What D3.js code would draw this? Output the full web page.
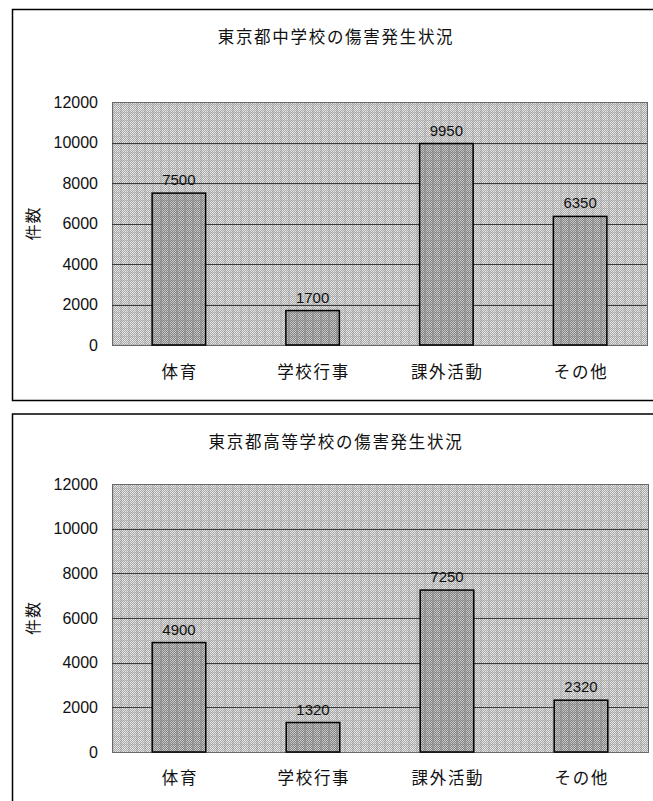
<!DOCTYPE html>
<html>
<head>
<meta charset="utf-8">
<script src="https://cdn.jsdelivr.net/npm/d3@7"></script>
<style>
  body { margin: 0; background: #fff; }
  svg { display: block; }
  .cjk { font-family: "Noto Sans CJK JP", "Noto Sans CJK SC", sans-serif; }
  .num { font-family: "Liberation Sans", Arial, sans-serif; }
</style>
</head>
<body>
<div id="chart"></div>
<script>
// data
var categories = ["体育", "学校行事", "課外活動", "その他"];
var juniorHigh = [7500, 1700, 9950, 6350];
var seniorHigh = [4900, 1320, 7250, 2320];
var yTicks = [0, 2000, 4000, 6000, 8000, 10000, 12000];
var titles = ["東京都中学校の傷害発生状況", "東京都高等学校の傷害発生状況"];
var yTitle = "件数";

var W = 653, H = 801;

var svg = d3.select("#chart")
  .append("svg")
  .attr("width", W)
  .attr("height", H);

var defs = svg.append("defs");

// halftone-ish fill like the scanned original
function makePattern(id, light, dark, plaid) {
  var p = defs.append("pattern")
    .attr("id", id)
    .attr("patternUnits", "userSpaceOnUse")
    .attr("width", 8)
    .attr("height", 8);
  for (var i = 0; i < 8; i++) {
    for (var j = 0; j < 8; j++) {
      var c = ((i + j) % 2 == 0) ? light : dark;
      if (i == 0 || j == 0 || i == 1) {
        c = ((i + j) % 2 == 0) ? plaid : dark;
      }
      p.append("rect")
        .attr("x", i).attr("y", j)
        .attr("width", 1).attr("height", 1)
        .attr("fill", c);
    }
  }
}
makePattern("bgPat", "#e6e6e6", "#a8a8a8", "#c8c8c8");
makePattern("barPat", "#c8c8c8", "#848484", "#a6a6a6");

function drawPanel(cfg) {
  var g = svg.append("g");

  // outer frame (runs off the right edge)
  g.append("rect")
    .attr("x", 12.5)
    .attr("y", cfg.frameTop)
    .attr("width", 700)
    .attr("height", cfg.frameHeight)
    .attr("fill", "none")
    .attr("stroke", "#000")
    .attr("stroke-width", 1.5);

  g.append("text")
    .attr("class", "cjk")
    .attr("x", 336)
    .attr("y", cfg.titleY)
    .attr("dy", "0.36em")
    .attr("text-anchor", "middle")
    .attr("font-size", 16.5)
    .attr("letter-spacing", "1.7px")
    .attr("fill", "#111")
    .text(cfg.title);

  var x = d3.scaleBand()
    .domain(categories)
    .range([cfg.left, cfg.right])
    .paddingInner(0.6)
    .paddingOuter(0.3);

  var y = d3.scaleLinear()
    .domain([0, 12000])
    .range([cfg.bottom, cfg.top]);

  // plot area
  g.append("rect")
    .attr("x", cfg.left)
    .attr("y", cfg.top)
    .attr("width", cfg.right - cfg.left)
    .attr("height", cfg.bottom - cfg.top)
    .attr("fill", "url(#bgPat)")
    .attr("stroke", "#6a6a6a")
    .attr("stroke-width", 1)
    .attr("shape-rendering", "crispEdges");

  // gridlines
  g.append("g")
    .selectAll("line")
    .data(yTicks.filter(function(d) { return d > 0 && d < 12000; }))
    .enter()
    .append("line")
    .attr("x1", cfg.left)
    .attr("x2", cfg.right)
    .attr("y1", function(d) { return Math.round(y(d)) + 0.5; })
    .attr("y2", function(d) { return Math.round(y(d)) + 0.5; })
    .attr("stroke", "#3c3c3c")
    .attr("stroke-width", 1);

  // y axis labels
  var yAxis = g.append("g")
    .attr("transform", "translate(" + cfg.left + ",0)")
    .call(d3.axisLeft(y).tickValues(yTicks).tickSize(0).tickPadding(14).tickFormat(d3.format("d")));
  yAxis.select(".domain").remove();
  yAxis.selectAll("text")
    .attr("class", "num")
    .attr("font-size", 16)
    .attr("fill", "#111");

  // x axis labels
  var xAxis = g.append("g")
    .attr("transform", "translate(0," + cfg.bottom + ")")
    .call(d3.axisBottom(x).tickSize(0));
  xAxis.select(".domain").remove();
  xAxis.selectAll("text")
    .attr("class", "cjk")
    .attr("y", cfg.catOffset)
    .attr("dy", "0.36em")
    .attr("dx", "0.9px")
    .attr("font-size", 16.5)
    .attr("letter-spacing", "1.7px")
    .attr("fill", "#111");

  // bars
  g.selectAll(".bar")
    .data(cfg.values)
    .enter()
    .append("rect")
    .attr("x", function(d, i) { return x(categories[i]); })
    .attr("y", function(d) { return y(d); })
    .attr("width", x.bandwidth())
    .attr("height", function(d) { return cfg.bottom - y(d); })
    .attr("fill", "url(#barPat)")
    .attr("stroke", "#000")
    .attr("stroke-width", 1.5);

  // value labels
  g.selectAll(".val")
    .data(cfg.values)
    .enter()
    .append("text")
    .attr("class", "num")
    .attr("x", function(d, i) { return x(categories[i]) + x.bandwidth() / 2; })
    .attr("y", function(d) { return y(d) - 8; })
    .attr("text-anchor", "middle")
    .attr("font-size", 15)
    .attr("fill", "#111")
    .text(function(d) { return d; });

  // vertical axis title
  g.append("text")
    .attr("class", "cjk")
    .attr("transform", "translate(33," + ((cfg.top + cfg.bottom) / 2) + ") rotate(-90)")
    .attr("dy", "0.36em")
    .attr("text-anchor", "middle")
    .attr("font-size", 16)
    .attr("letter-spacing", "1px")
    .attr("fill", "#111")
    .text(yTitle);
}

drawPanel({
  title: titles[0], values: juniorHigh,
  frameTop: 9.5, frameHeight: 391,
  titleY: 37, top: 102, bottom: 345, left: 112, right: 647,
  catOffset: 27
});

drawPanel({
  title: titles[1], values: seniorHigh,
  frameTop: 414, frameHeight: 420,
  titleY: 442, top: 484, bottom: 752, left: 112, right: 648,
  catOffset: 26
});
</script>
</body>
</html>
